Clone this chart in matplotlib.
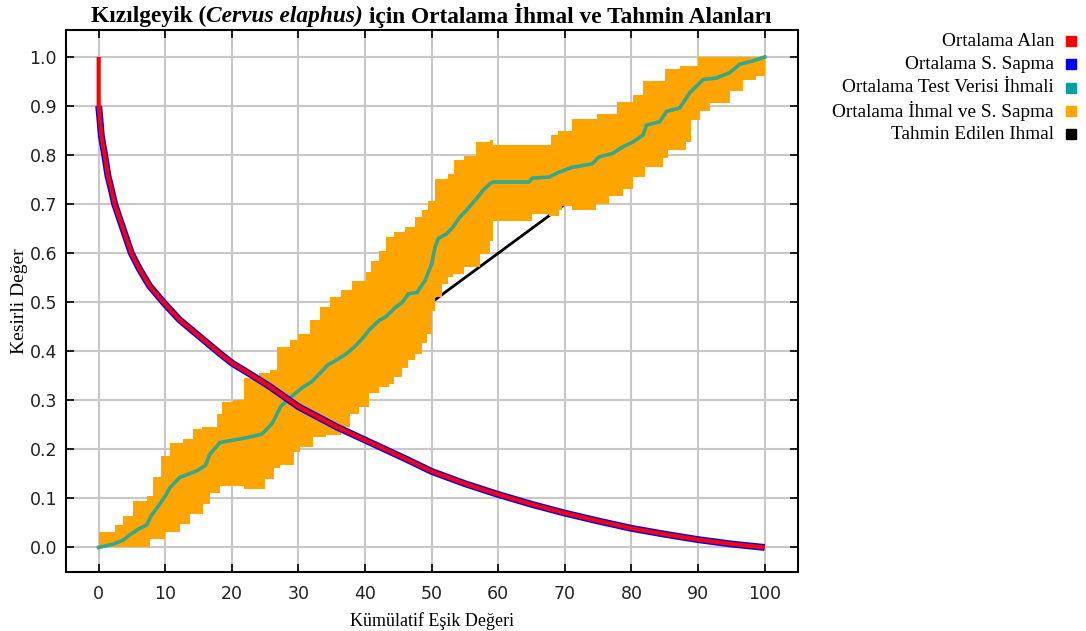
import matplotlib as mpl
mpl.use("agg")
import matplotlib.pyplot as plt
from matplotlib.lines import Line2D
import numpy as np

# fractional predicted area (mean) vs cumulative threshold
area_x = [0, 0, 0.15, 0.4, 0.9, 1.4, 1.9, 2.4, 3.15, 3.9, 4.9, 6.15, 7.65, 9.9, 12.15,
          15.15, 18.15, 20, 23.15, 25.8, 30, 35.7, 40, 46.5, 50, 55, 60, 65, 70, 75,
          80, 85, 90, 95, 100]
area_y = [1.0, 0.9, 0.879, 0.839, 0.80, 0.757, 0.73, 0.70, 0.67, 0.64, 0.60, 0.567,
          0.533, 0.497, 0.464, 0.43, 0.396, 0.376, 0.35, 0.327, 0.287, 0.246, 0.219,
          0.178, 0.155, 0.13, 0.108, 0.088, 0.07, 0.054, 0.039, 0.027, 0.016, 0.007, 0.0]

# mean test omission
om_x = [0, 2.2, 3.7, 4.7, 5.9, 7.2, 7.9, 9, 10, 10.7, 12.2, 14.7, 16, 16.7, 18.2, 22.3,
        24.5, 26, 26.8, 27.3, 28.3, 29.5, 30.7, 32, 33.2, 34.4, 35.7, 37.2, 38.4, 39.6,
        40.6, 42.1, 43.1, 44.6, 45.6, 46.5, 47.8, 49, 50, 50.5, 51, 52.2, 53.2, 54.2,
        55.2, 56.9, 57.7, 58.7, 59.2, 64.6, 65.1, 67.6, 69.1, 71.1, 74.1, 75.1, 77.1,
        78.75, 80.25, 81.75, 82.25, 84.25, 85.25, 87.25, 88.75, 90.75, 92.75, 94.75,
        96.25, 98.25, 100]
om_y = [0, 0.007, 0.015, 0.026, 0.037, 0.046, 0.065, 0.085, 0.105, 0.122, 0.143, 0.156,
        0.167, 0.19, 0.214, 0.224, 0.231, 0.252, 0.273, 0.287, 0.30, 0.314, 0.327, 0.338,
        0.355, 0.372, 0.382, 0.395, 0.409, 0.426, 0.443, 0.463, 0.47, 0.49, 0.50, 0.517,
        0.52, 0.544, 0.578, 0.612, 0.63, 0.639, 0.653, 0.673, 0.687, 0.714, 0.728, 0.741,
        0.745, 0.745, 0.753, 0.755, 0.765, 0.775, 0.782, 0.796, 0.803, 0.817, 0.827,
        0.841, 0.861, 0.868, 0.889, 0.896, 0.927, 0.954, 0.957, 0.968, 0.985, 0.992, 1.0]

# omission +/- std (stepped edges)
up_x = [0, 2.4, 3.7, 5.2, 7.2, 8.2, 9.4, 10.7, 12.7, 14.2, 15.5, 17.7, 18.5, 20.2, 21.8,
        24, 25.8, 26.8, 28.8, 30, 31.7, 33.2, 34.7, 36.4, 38.1, 40.1, 40.9, 42.1, 43.1,
        44.3, 46, 47.5, 48.5, 49.5, 50.5, 52.4, 53.4, 54.9, 56.6, 58.7, 59.2, 67.9, 68.9,
        71.1, 74.8, 77.8, 80.25, 81.75, 85, 87.25, 90, 100]
up_y = [0.031, 0.046, 0.065, 0.095, 0.105, 0.143, 0.187, 0.214, 0.221, 0.241, 0.245,
        0.272, 0.296, 0.30, 0.345, 0.355, 0.361, 0.409, 0.422, 0.436, 0.463, 0.49, 0.51,
        0.524, 0.544, 0.561, 0.585, 0.605, 0.633, 0.643, 0.653, 0.673, 0.687, 0.707,
        0.751, 0.762, 0.789, 0.799, 0.826, 0.83, 0.82, 0.84, 0.85, 0.874, 0.884, 0.908,
        0.923, 0.951, 0.975, 0.981, 0.999, 1.0]
lo_x = [0, 7.7, 10, 12.2, 13.7, 15.7, 16.7, 18.2, 21.8, 25, 26.3, 27.3, 29.3, 30.3, 32.2,
        34.2, 36.4, 37.7, 39.1, 40.6, 42.1, 43.6, 44.3, 45.6, 46.5, 47.5, 48.5, 49.3, 50,
        50.5, 51.5, 52.5, 53.2, 54.9, 57.2, 58.7, 59.2, 65.1, 67.6, 69.1, 69.6, 71.1, 74.6,
        76.6, 78.75, 80.25, 82, 84.75, 85.5, 88.25, 89, 90.25, 91.75, 94.75, 96.75, 98.75,
        100]
lo_y = [0, 0.017, 0.031, 0.048, 0.068, 0.088, 0.112, 0.126, 0.12, 0.139, 0.163, 0.168,
        0.194, 0.204, 0.226, 0.229, 0.246, 0.273, 0.287, 0.314, 0.327, 0.334, 0.348, 0.365,
        0.382, 0.395, 0.416, 0.436, 0.483, 0.51, 0.538, 0.551, 0.557, 0.571, 0.598, 0.625,
        0.666, 0.68, 0.676, 0.687, 0.697, 0.687, 0.70, 0.717, 0.731, 0.755, 0.776, 0.793,
        0.81, 0.827, 0.872, 0.889, 0.906, 0.93, 0.954, 0.961, 0.98]

# predicted omission
pred_x = [0, 100]
pred_y = [0, 1]

labels = ["Ortalama Alan", "Ortalama S. Sapma", "Ortalama Test Verisi İhmali",
          "Ortalama İhmal ve S. Sapma", "Tahmin Edilen Ihmal"]
colors = ["#ff0000", "#0000ff", "#00a0a0", "#ffa500", "#000000"]

serif = "Liberation Serif"


def stairs(x, y):
    x = np.asarray(x, float)
    y = np.asarray(y, float)
    return np.repeat(x, 2)[1:], np.repeat(y, 2)[:-1]


fig = plt.figure(figsize=(10.86, 6.31), dpi=100)
ax = fig.add_axes([0.0608, 0.0935, 0.674, 0.859])

ax.plot(pred_x, pred_y, color=colors[4], lw=2, zorder=2)

ux, uy = stairs(up_x, up_y)
lx, ly = stairs(lo_x, lo_y)
ax.fill(np.concatenate([ux, lx[::-1]]), np.concatenate([uy, ly[::-1]]),
        color=colors[3], lw=0, zorder=3)

ax.plot(om_x, om_y, color="#33a88e", lw=2.6, zorder=4)
ax.plot(area_x[1:], area_y[1:], color=colors[1], lw=5, zorder=5, solid_capstyle="butt")
ax.plot(area_x, area_y, color=colors[0], lw=3, zorder=6, solid_capstyle="butt")

ax.set_xlim(-4.9, 105)
ax.set_ylim(-0.05, 1.055)
ax.set_xticks(np.arange(0, 101, 10))
ax.set_yticks(np.arange(0, 1.01, 0.1))
ax.set_yticklabels(["%.1f" % v for v in np.arange(0, 1.01, 0.1)])
ax.grid(True, color="#c8c8c8", lw=1.5, zorder=0)
ax.set_axisbelow(True)
ax.tick_params(direction="in", length=6, width=1.2, top=True, right=True,
               labelsize=12.5, labelcolor="#222222")
ax.tick_params(axis="x", pad=9)
ax.tick_params(axis="y", pad=6.5)
for s in ax.spines.values():
    s.set_linewidth(1.5)

ax.set_xlabel("Kümülatif Eşik Değeri", family=serif, fontsize=13, labelpad=7)
ax.set_ylabel("Kesirli Değer", family=serif, fontsize=14, labelpad=1)

# legend: labels right-aligned, colour square on the right
for i, (lab, c) in enumerate(zip(labels, colors)):
    yy = 1 - (41 + 23.3 * i) / 631
    fig.text(1054 / 1086, yy, lab, ha="right", va="center", family=serif, fontsize=13.9)
    fig.add_artist(Line2D([1071 / 1086], [yy], transform=fig.transFigure, marker="s",
                          ms=7, color=c, ls="none"))

# title with italic species name
parts = [("Kızılgeyik (", "normal"), ("Cervus elaphus)", "italic"),
         (" için Ortalama İhmal ve Tahmin Alanları", "normal")]
ty = 1 - 16 / 631
texts = [fig.text(0, ty, s, style=st, weight="bold", family=serif, fontsize=16.8,
                  va="center", ha="left") for s, st in parts]
fig.canvas.draw()
r = fig.canvas.get_renderer()
widths = [t.get_window_extent(r).width for t in texts]
x0 = 431 - sum(widths) / 2
for t, w in zip(texts, widths):
    t.set_x(x0 / 1086)
    x0 += w

fig.savefig("out.png", dpi=100)
